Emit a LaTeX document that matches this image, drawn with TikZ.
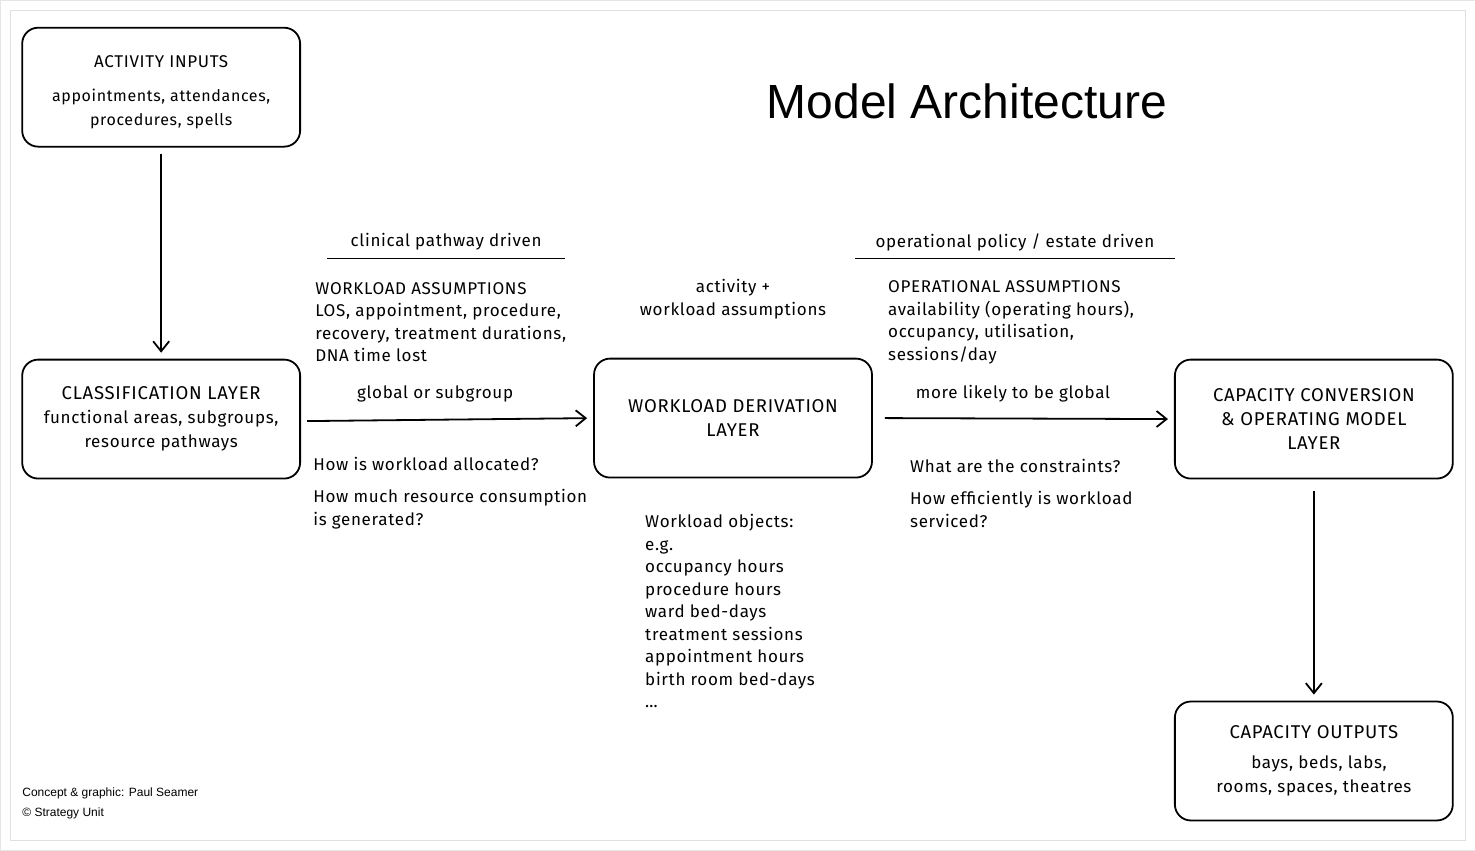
\documentclass[tikz,border=0pt]{standalone}
\usepackage{fontspec}
\setmainfont{Fira Sans}[LetterSpace=4]
\newfontfamily\titlefont{Liberation Sans}
\usetikzlibrary{positioning,arrows.meta}
\tikzset{%
  layerbox/.style = {shape=rectangle, rounded corners=16pt, draw, line width=1.8pt,%
                     minimum width=278pt, minimum height=119pt, align=center,%
                     font=\fontsize{18.5}{24}\selectfont},%
  note/.style     = {align=left, anchor=west, font=\fontsize{17}{22.5}\selectfont, inner sep=0pt},%
  cnote/.style    = {align=center, font=\fontsize{17}{22.5}\selectfont, inner sep=0pt},%
  flow/.style     = {-{Straight Barb[length=10pt,width=16pt]}, line width=1.8pt, shorten >=6pt}%
}
\begin{document}
\begin{tikzpicture}[x=1pt,y=-1pt]
	\draw [black!10,fill=white] (0,0) rectangle (1475,850);
	\draw [black!12] (10,10) rectangle (1465,840);
	\node (title) at (967,101) [font=\titlefont\fontsize{48}{54}\selectfont] {Model Architecture};
	% layers
	\node (inputs) at (161,87) [layerbox] {};
	\node (intext) at (161,92) [align=center, font=\fontsize{17}{24}\selectfont] {ACTIVITY INPUTS\\[10pt]\fontsize{16}{20}\selectfont appointments, attendances,\\\fontsize{16}{20}\selectfont procedures, spells};
	\node (classif) at (161,419) [layerbox] {CLASSIFICATION LAYER\\\fontsize{17}{24}\selectfont functional areas, subgroups,\\\fontsize{17}{24}\selectfont resource pathways};
	\node (derive) at (733,418) [layerbox] {WORKLOAD DERIVATION\\LAYER};
	\node (convert) at (1314,419) [layerbox] {CAPACITY CONVERSION\\\& OPERATING MODEL\\LAYER};
	\node (outputs) at (1314,761) [layerbox] {CAPACITY OUTPUTS\\[6pt]\fontsize{17}{24}\selectfont\ \ bays, beds, labs,\\\fontsize{17}{24}\selectfont rooms, spaces, theatres};
	% connectors
	\draw [flow, shorten <=6pt] (inputs) -- (classif);
	\draw [flow] (classif.east) ++(6,2) coordinate (c1) -- (derive.west |- 0,418);
	\draw [flow] (derive.east) ++(12,0) coordinate (c2) -- (convert.west);
	\draw [flow, shorten <=12pt] (convert) -- (outputs);
	% left notes
	\node (pathway) at (446,242) [cnote] {clinical pathway driven};
	\draw [line width=0.9pt] (327,258) -- (565,258);
	\node (wassume) at (315,322) [note] {WORKLOAD ASSUMPTIONS\\LOS, appointment, procedure,\\recovery, treatment durations,\\DNA time lost};
	\node (global) at (435,394) [cnote] {global or subgroup};
	\node (alloc) at (313,493) [note] {How is workload allocated?\\[10pt]How much resource consumption\\is generated?};
	% middle notes
	\node (activity) at (733,299) [cnote] {activity +\\workload assumptions};
	\node (objects) at (645,611) [note] {Workload objects:\\e.g.\\occupancy hours\\procedure hours\\ward bed-days\\treatment sessions\\appointment hours\\birth room bed-days\\\dots};
	% right notes
	\node (policy) at (1015,242) [cnote] {operational policy / estate driven};
	\draw [line width=0.9pt] (855,258) -- (1175,258);
	\node (oassume) at (888,322) [note] {OPERATIONAL ASSUMPTIONS\\availability (operating hours),\\occupancy, utilisation,\\sessions/day};
	\node (likely) at (1013,394) [cnote] {more likely to be global};
	\node (constr) at (910,493) [note] {What are the constraints?\\[10pt]How efficiently is workload\\serviced?};
	% footer
	\node (credit) at (22,803) [note, font=\titlefont\fontsize{12}{20}\selectfont] {Concept \& graphic: Paul Seamer\\\textcopyright{} Strategy Unit};
\end{tikzpicture}
\end{document}
